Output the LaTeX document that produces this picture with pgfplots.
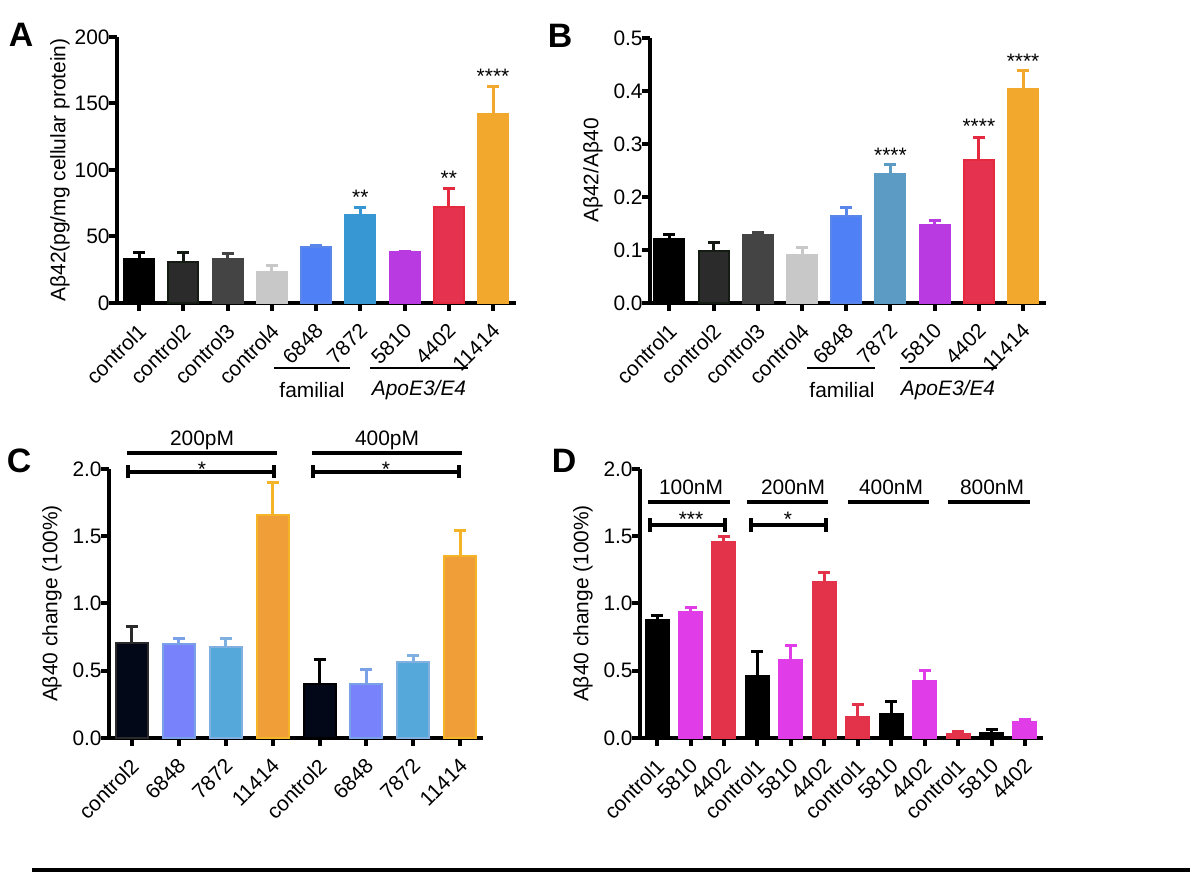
\documentclass[border=0pt]{standalone}
\usepackage{fontspec}
\setmainfont{Liberation Sans}
\usepackage{pgfplots}
\pgfplotsset{compat=1.18}
\newcommand{\fs}{\fontsize{10.5}{12}\selectfont}
\definecolor{cA2}{HTML}{2B2B2B}
\definecolor{cA2d}{HTML}{141C14}
\definecolor{cA3}{HTML}{444444}
\definecolor{cA4}{HTML}{C8C8C8}
\definecolor{cBlue}{HTML}{5080F5}
\definecolor{cBlued}{HTML}{5A85EA}
\definecolor{cSky}{HTML}{3797D2}
\definecolor{cSteel}{HTML}{5B9BC4}
\definecolor{cPurp}{HTML}{B93AE0}
\definecolor{cRed}{HTML}{E5324E}
\definecolor{cRedd}{HTML}{E52A40}
\definecolor{cOr}{HTML}{F2A72D}
\definecolor{cNavy}{HTML}{020818}
\definecolor{cNavyd}{HTML}{2A2A2A}
\definecolor{cPeri}{HTML}{7882FA}
\definecolor{cPerid}{HTML}{7AA0E8}
\definecolor{cLb}{HTML}{55A8DA}
\definecolor{cLbd}{HTML}{80B0E0}
\definecolor{cOr2}{HTML}{F09E38}
\definecolor{cOr2d}{HTML}{F5B428}
\definecolor{cMag}{HTML}{E03CE8}
\definecolor{cRd}{HTML}{E3334B}
\pgfplotsset{
  prism/.style={
    scale only axis, clip=false, anchor=south west,
    axis x line=bottom, axis y line=left,
    axis line style={-, line width=2.2bp, black},
    tick align=outside,
    major tick length=4bp,
    every tick/.style={black, line width=2bp},
    x tick label style={rotate=45, anchor=north east, inner sep=0pt, font=\fs, yshift=-3bp, xshift=-4.5bp},
    y tick label style={font=\fs, inner sep=0.5bp, xshift=1bp},
    /pgf/number format/assume math mode=true,
    ylabel style={at={(axis description cs:0,0.5)}, anchor=center, yshift=28.5bp, font=\fs},
    ymin=0, ybar,
  },
  oneplace/.style={/pgf/number format/.cd, fixed, fixed zerofill, precision=1},
  mybar/.style 2 args={ybar, fill=#1, draw=#2, line width=1bp, bar shift=0pt,
    error bars/y dir=plus, error bars/y explicit,
    error bars/error bar style={color=#2, line width=1.5bp},
    error bars/error mark options={color=#2, rotate=90, mark size=3bp, line width=1.5bp}},
}
\begin{document}
\begin{tikzpicture}[x=0.5bp, y=0.5bp]
\path[use as bounding box] (0,0) rectangle (1200,882);
% ---------------- A
\begin{axis}[prism, at={(58.5bp,289.5bp)}, width=199.5bp, height=133bp,
  xmin=-0.5, xmax=8.52, ymax=200, ytick={0,50,100,150,200},
  xtick={0,...,8}, xticklabels={control1,control2,control3,control4,6848,7872,5810,4402,11414},
  bar width=15bp, ylabel={Aβ42(pg/mg cellular protein)}]
\addplot[mybar={black}{black}] coordinates {(0,33) +- (0,5)};
\addplot[mybar={cA2}{cA2d}] coordinates {(1,31) +- (0,7)};
\addplot[mybar={cA3}{cA3}] coordinates {(2,33) +- (0,4)};
\addplot[mybar={cA4}{cA4}] coordinates {(3,23) +- (0,5)};
\addplot[mybar={cBlue}{cBlued}] coordinates {(4,42) +- (0,1)};
\addplot[mybar={cSky}{cSky}] coordinates {(5,66) +- (0,6)};
\addplot[mybar={cPurp}{cPurp}] coordinates {(6,38) +- (0,1)};
\addplot[mybar={cRed}{cRedd}] coordinates {(7,72) +- (0,14)};
\addplot[mybar={cOr}{cOr}] coordinates {(8,142) +- (0,21)};
\node[font=\fs, anchor=base] at (axis cs:5,74) {**};
\node[font=\fs, anchor=base] at (axis cs:7,88) {**};
\node[font=\fs, anchor=base] at (axis cs:8,165) {****};
\end{axis}
% ---------------- B
\begin{axis}[prism, at={(325bp,289.5bp)}, width=198bp, height=132.5bp,
  xmin=-0.44, xmax=8.52, ymax=0.5, ytick={0,0.1,0.2,0.3,0.4,0.5},
  yticklabel style={oneplace},
  xtick={0,...,8}, xticklabels={control1,control2,control3,control4,6848,7872,5810,4402,11414},
  bar width=15bp, ylabel={Aβ42/Aβ40}]
\addplot[mybar={black}{black}] coordinates {(0,0.121) +- (0,0.008)};
\addplot[mybar={cA2}{cA2d}] coordinates {(1,0.099) +- (0,0.015)};
\addplot[mybar={cA3}{cA3}] coordinates {(2,0.128) +- (0,0.005)};
\addplot[mybar={cA4}{cA4}] coordinates {(3,0.091) +- (0,0.013)};
\addplot[mybar={cBlue}{cBlued}] coordinates {(4,0.165) +- (0,0.016)};
\addplot[mybar={cSteel}{cSteel}] coordinates {(5,0.244) +- (0,0.018)};
\addplot[mybar={cPurp}{cPurp}] coordinates {(6,0.147) +- (0,0.009)};
\addplot[mybar={cRed}{cRedd}] coordinates {(7,0.270) +- (0,0.042)};
\addplot[mybar={cOr}{cOr}] coordinates {(8,0.404) +- (0,0.035)};
\node[font=\fs, anchor=base] at (axis cs:5,0.265) {****};
\node[font=\fs, anchor=base] at (axis cs:7,0.319) {****};
\node[font=\fs, anchor=base] at (axis cs:8,0.442) {****};
\end{axis}
% ---------------- C
\begin{axis}[prism, at={(54.5bp,72bp)}, width=187bp, height=134.5bp,
  xmin=-0.48, xmax=7.48, ymax=2, ytick={0,0.5,1,1.5,2},
  yticklabel style={oneplace},
  xtick={0,...,7}, xticklabels={control2,6848,7872,11414,control2,6848,7872,11414},
  bar width=16bp, ylabel={Aβ40 change (100\%)}]
\addplot[mybar={cNavy}{cNavyd}] coordinates {(0,0.71) +- (0,0.12)};
\addplot[mybar={cPeri}{cPerid}] coordinates {(1,0.70) +- (0,0.04)};
\addplot[mybar={cLb}{cLbd}] coordinates {(2,0.68) +- (0,0.06)};
\addplot[mybar={cOr2}{cOr2d}] coordinates {(3,1.66) +- (0,0.24)};
\addplot[mybar={cNavy}{black}] coordinates {(4,0.40) +- (0,0.18)};
\addplot[mybar={cPeri}{cPerid}] coordinates {(5,0.40) +- (0,0.11)};
\addplot[mybar={cLb}{cLbd}] coordinates {(6,0.565) +- (0,0.045)};
\addplot[mybar={cOr2}{cOr2d}] coordinates {(7,1.35) +- (0,0.19)};
\end{axis}
% ---------------- D
\begin{axis}[prism, at={(320bp,72bp)}, width=201.5bp, height=134.5bp,
  xmin=-0.51, xmax=11.54, ymax=2, ytick={0,0.5,1,1.5,2},
  yticklabel style={oneplace},
  xtick={0,...,11}, xticklabels={control1,5810,4402,control1,5810,4402,control1,5810,4402,control1,5810,4402},
  bar width=11.5bp, ylabel={Aβ40 change (100\%)}]
\addplot[mybar={black}{black}] coordinates {(0,0.88) +- (0,0.03)};
\addplot[mybar={cMag}{cMag}] coordinates {(1,0.94) +- (0,0.03)};
\addplot[mybar={cRd}{cRd}] coordinates {(2,1.455) +- (0,0.045)};
\addplot[mybar={black}{black}] coordinates {(3,0.46) +- (0,0.18)};
\addplot[mybar={cMag}{cMag}] coordinates {(4,0.58) +- (0,0.11)};
\addplot[mybar={cRd}{cRd}] coordinates {(5,1.157) +- (0,0.073)};
\addplot[mybar={cRd}{cRd}] coordinates {(6,0.156) +- (0,0.094)};
\addplot[mybar={black}{black}] coordinates {(7,0.18) +- (0,0.09)};
\addplot[mybar={cMag}{cMag}] coordinates {(8,0.426) +- (0,0.074)};
\addplot[mybar={cRd}{cRd}] coordinates {(9,0.03) +- (0,0.02)};
\addplot[mybar={black}{black}] coordinates {(10,0.037) +- (0,0.023)};
\addplot[mybar={cMag}{cMag}] coordinates {(11,0.116) +- (0,0.02)};
\end{axis}
% ---------------- annotations
\begin{scope}[font=\fs]
% A
\draw[line width=1bp] (274,514) -- (350,514);
\node at (312,492) {familial};
\draw[line width=1bp] (370,514) -- (468,514);
\node at (419,492) {\itshape ApoE3/E4};
% B
\draw[line width=1bp] (807,514) -- (875,514);
\node at (842,492) {familial};
\draw[line width=1bp] (900,514) -- (997,514);
\node at (948,492) {\itshape ApoE3/E4};
% C
\node[anchor=base] at (202,437) {200pM};
\draw[line width=2bp] (127,429) -- (277,429);
\draw[line width=2bp] (128,404) -- (128,417) (128,410) -- (274,410) (274,404) -- (274,417);
\node[anchor=base] at (202,406) {*};
\node[anchor=base] at (387,437) {400pM};
\draw[line width=2bp] (312,429) -- (462,429);
\draw[line width=2bp] (313,404) -- (313,417) (313,410) -- (459,410) (459,404) -- (459,417);
\node[anchor=base] at (386,406) {*};
% D
\node[anchor=base] at (691,388) {100nM};
\node[anchor=base] at (793,388) {200nM};
\node[anchor=base] at (891,388) {400nM};
\node[anchor=base] at (992,388) {800nM};
\draw[line width=2bp] (648,380) -- (730,380) (747,380) -- (828,380) (848,380) -- (929,380) (948,380) -- (1030,380);
\draw[line width=2bp] (650,350) -- (650,364) (650,357) -- (725,357) (725,350) -- (725,364);
\draw[line width=2bp] (751,350) -- (751,364) (751,357) -- (826,357) (826,350) -- (826,364);
\node[anchor=base] at (691,356) {***};
\node[anchor=base] at (788,356) {*};
% panel letters
\node[font=\fontsize{17}{19}\selectfont\bfseries] at (21,847) {A};
\node[font=\fontsize{17}{19}\selectfont\bfseries] at (560,846) {B};
\node[font=\fontsize{17}{19}\selectfont\bfseries] at (19,421) {C};
\node[font=\fontsize{17}{19}\selectfont\bfseries] at (564,421) {D};
% bottom rule
\draw[line width=2bp] (32,12) -- (1190,12);
\end{scope}
\end{tikzpicture}
\end{document}
